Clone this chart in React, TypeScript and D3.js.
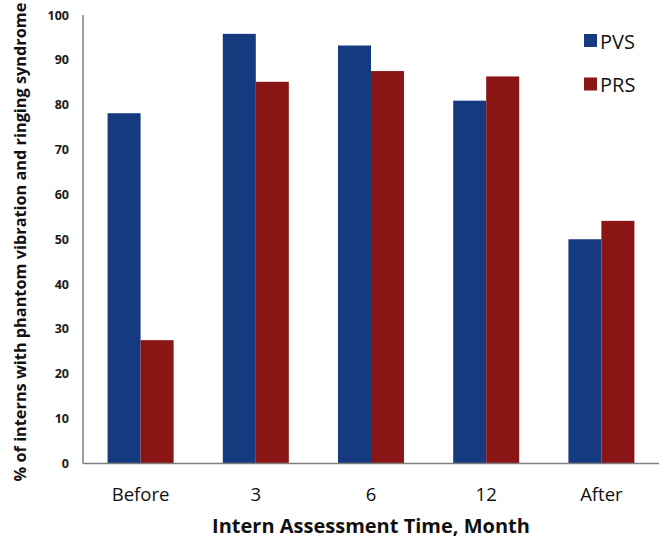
import React from "react";
import * as d3 from "d3";

const categories = ["Before", "3", "6", "12", "After"];
const seriesNames = ["PVS", "PRS"];
const pvsValues = [78.1, 95.8, 93.2, 80.9, 50.0];
const prsValues = [27.5, 85.1, 87.5, 86.3, 54.1];
const yTicks = [0, 10, 20, 30, 40, 50, 60, 70, 80, 90, 100];
const colors = ["#163A80", "#8A1515"];

const W = 666;
const H = 541;
const left = 83;
const right = 659;
const top = 15;
const bottom = 463.5;

export default function App() {
  const x = d3.scaleBand<string>().domain(categories).range([left, right]).paddingInner(0).paddingOuter(0);
  const inner = d3
    .scaleBand<string>()
    .domain(seriesNames)
    .range([0, x.bandwidth()])
    .paddingInner(0)
    .paddingOuter(0.745);
  const y = d3.scaleLinear().domain([0, 100]).range([bottom, top]);
  const values = [pvsValues, prsValues];
  const font = "'Open Sans', 'Liberation Sans', sans-serif";

  return (
    <svg
      width={W}
      height={H}
      style={{ position: "absolute", left: 0, top: 0, background: "#fff" }}
      fontFamily={font}
    >
      {/* bars */}
      {categories.map((c, i) =>
        seriesNames.map((s, j) => {
          const v = values[j][i];
          return (
            <rect
              key={c + s}
              x={(x(c) as number) + (inner(s) as number)}
              y={y(v)}
              width={inner.bandwidth()}
              height={y(0) - y(v)}
              fill={colors[j]}
            />
          );
        })
      )}
      {/* axes */}
      <line x1={left} x2={left} y1={top} y2={bottom} stroke="#7f7f7f" strokeWidth={1.5} />
      <line x1={left} x2={right} y1={bottom} y2={bottom} stroke="#7f7f7f" strokeWidth={1.5} />
      {/* y tick labels */}
      {yTicks.map((t) => (
        <text
          key={t}
          x={69}
          y={y(t)}
          textAnchor="end"
          dominantBaseline="central"
          fontSize={12.5}
          fontWeight="bold"
          fill="#1a1a1a"
        >
          {t}
        </text>
      ))}
      {/* x labels */}
      {categories.map((c) => (
        <text
          key={c}
          x={(x(c) as number) + x.bandwidth() / 2}
          y={493}
          textAnchor="middle"
          dominantBaseline="central"
          fontSize={18.5}
          fill="#111"
        >
          {c}
        </text>
      ))}
      <text
        x={(left + right) / 2}
        y={525}
        textAnchor="middle"
        dominantBaseline="central"
        fontSize={20}
        fontWeight="bold"
        fill="#111"
      >
        Intern Assessment Time, Month
      </text>
      <text
        transform={`translate(20, 242) rotate(-90)`}
        textAnchor="middle"
        dominantBaseline="central"
        fontSize={16.3}
        fontWeight="bold"
        fill="#111"
      >
        % of interns with phantom vibration and ringing syndrome
      </text>
      {/* legend */}
      {seriesNames.map((s, j) => (
        <g key={s} transform={`translate(584, ${34 + j * 43.5})`}>
          <rect x={0} y={0} width={13} height={13} fill={colors[j]} />
          <text x={16} y={7} dominantBaseline="central" fontSize={20} fill="#111">
            {s}
          </text>
        </g>
      ))}
    </svg>
  );
}
